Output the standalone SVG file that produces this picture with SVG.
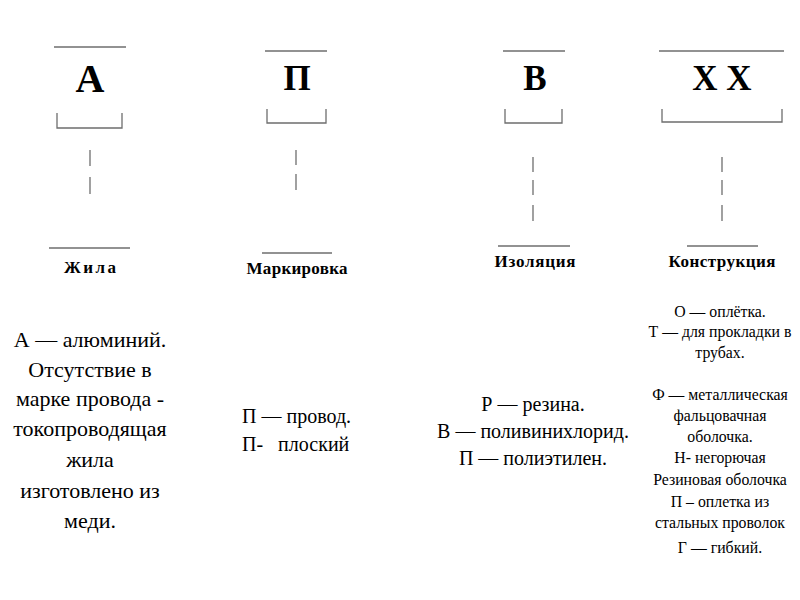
<svg xmlns="http://www.w3.org/2000/svg" width="800" height="600" viewBox="0 0 800 600">
<style>
.ln{stroke:#6e6e6e;stroke-width:1.3;fill:none}
.big{font-family:"Liberation Serif","Times New Roman",serif;font-weight:bold;fill:#000;text-anchor:middle}
.lbl{font-family:"Liberation Serif","Times New Roman",serif;font-weight:bold;font-size:17px;fill:#000;text-anchor:middle}
.body{font-family:"Liberation Serif","Times New Roman",serif;fill:#000;text-anchor:middle}
</style>
<rect width="800" height="600" fill="#fff"/>
<g id="node-A">
<line class="ln" x1="54" y1="47" x2="126" y2="47"/>
<text class="big" x="90" y="92" font-size="40">А</text>
<path class="ln" d="M57,113 V128 H122 V113"/>
</g>
<g id="node-P">
<line class="ln" x1="265" y1="51" x2="327" y2="51"/>
<text class="big" x="297" y="90" font-size="35">П</text>
<path class="ln" d="M267,109 V123 H326 V109"/>
</g>
<g id="node-V">
<line class="ln" x1="503" y1="51" x2="565" y2="51"/>
<text class="big" x="535" y="90" font-size="35">В</text>
<path class="ln" d="M505,109 V123 H562 V109"/>
</g>
<g id="node-XX">
<line class="ln" x1="659" y1="51" x2="784" y2="51"/>
<text class="big" x="722" y="90" font-size="35">X X</text>
<path class="ln" d="M662,109 V122 H782 V109"/>
</g>
<g id="connectors">
<line class="ln" x1="90" y1="150" x2="90" y2="166"/>
<line class="ln" x1="90" y1="177" x2="90" y2="194"/>
<line class="ln" x1="296" y1="150" x2="296" y2="165"/>
<line class="ln" x1="296" y1="174" x2="296" y2="190"/>
<line class="ln" x1="533" y1="157" x2="533" y2="172"/>
<line class="ln" x1="533" y1="180" x2="533" y2="195"/>
<line class="ln" x1="533" y1="205" x2="533" y2="221"/>
<line class="ln" x1="722" y1="157" x2="722" y2="172"/>
<line class="ln" x1="722" y1="180" x2="722" y2="195"/>
<line class="ln" x1="722" y1="205" x2="722" y2="221"/>
</g>
<g id="label-zhila">
<line class="ln" x1="49" y1="248" x2="130" y2="248"/>
<text class="lbl" x="90" y="273" textLength="52" lengthAdjust="spacing">Жила</text>
</g>
<g id="label-markirovka">
<line class="ln" x1="262" y1="253" x2="332" y2="253"/>
<text class="lbl" x="297" y="274" textLength="101" lengthAdjust="spacing">Маркировка</text>
</g>
<g id="label-izolyaciya">
<line class="ln" x1="498" y1="246" x2="570" y2="246"/>
<text class="lbl" x="535" y="267" textLength="81" lengthAdjust="spacing">Изоляция</text>
</g>
<g id="label-konstrukciya">
<line class="ln" x1="687" y1="246" x2="758" y2="246"/>
<text class="lbl" x="722" y="267" textLength="107" lengthAdjust="spacing">Конструкция</text>
</g>
<g id="text-A" font-size="22">
<text x="90" y="347" class="body">А — алюминий.</text>
<text x="90" y="377" class="body">Отсутствие в</text>
<text x="90" y="406" class="body">марке провода -</text>
<text x="90" y="436" class="body">токопроводящая</text>
<text x="90" y="467" class="body">жила</text>
<text x="90" y="498" class="body">изготовлено из</text>
<text x="90" y="528" class="body">меди.</text>
</g>
<g id="text-P" font-size="20">
<text x="242" y="423" class="body" style="text-anchor:start">П — провод.</text>
<text x="242" y="451" class="body" style="text-anchor:start" xml:space="preserve">П-   плоский</text>
</g>
<g id="text-V" font-size="20">
<text x="533" y="411" class="body">Р — резина.</text>
<text x="533" y="438" class="body">В — поливинихлорид.</text>
<text x="533" y="465" class="body">П — полиэтилен.</text>
</g>
<g id="text-XX" font-size="15.8">
<text x="720" y="317" class="body">О — оплётка.</text>
<text x="720" y="337" class="body">Т — для прокладки в</text>
<text x="720" y="358" class="body">трубах.</text>
<text x="720" y="400" class="body">Ф — металлическая</text>
<text x="720" y="421" class="body">фальцовачная</text>
<text x="720" y="442" class="body">оболочка.</text>
<text x="720" y="463" class="body">Н- негорючая</text>
<text x="720" y="485" class="body">Резиновая оболочка</text>
<text x="720" y="507" class="body">П – оплетка из</text>
<text x="720" y="528" class="body">стальных проволок</text>
<text x="720" y="553" class="body">Г — гибкий.</text>
</g>
</svg>
